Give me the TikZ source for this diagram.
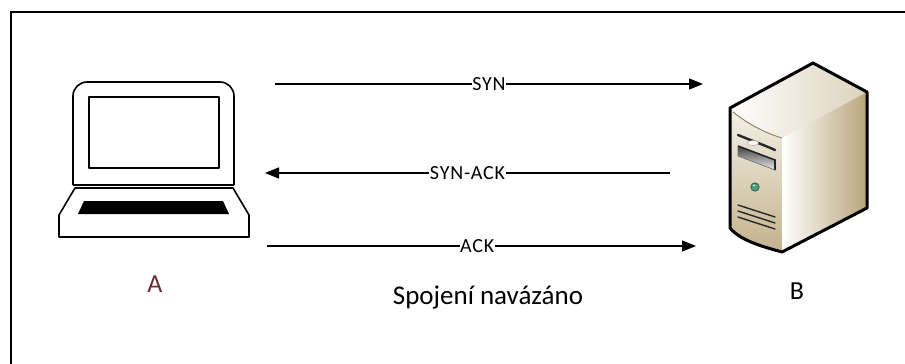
\documentclass[tikz,border=0pt]{standalone}
\usepackage{fontspec}
\setmainfont{Carlito}
\usetikzlibrary{arrows.meta}
\definecolor{labelA}{HTML}{6B2C2C}
\definecolor{caseLight}{HTML}{F4F1E8}
\definecolor{caseMid}{HTML}{DCD2BC}
\definecolor{caseDark}{HTML}{B8A478}
\definecolor{ledGreen}{HTML}{4C9E7C}
\newfontfamily\labelfont[LetterSpace=4]{Carlito}
\tikzset{
  frameline/.style={line width=2.3pt, black},
  laptopline/.style={line width=1.6pt, black, line join=round},
  msg/.style={line width=1.3pt, -{Triangle[length=14pt, width=11pt]}},
  msglabel/.style={fill=white, inner xsep=0.5pt, inner ysep=1pt, font=\labelfont\fontsize{20}{22}\selectfont},
  hostlabel/.style={font=\fontsize{26}{28}\selectfont},
  caption/.style={font=\fontsize{27}{29}\selectfont},
}
\begin{document}
\begin{tikzpicture}[x=1pt, y=-1pt]
  \useasboundingbox (0,0) rectangle (905,364);

  % open frame: top and left edges
  \draw[frameline] (11,364) -- (11,12) -- (905,12);

  % ---------- laptop (host A) ----------
  \draw[laptopline, rounded corners=14pt] (73,185) -- (73,82) -- (234,82) -- (234,185);
  \draw[laptopline] (73,185) -- (234,185);
  \draw[laptopline] (89,97) rectangle (219,168);
  \draw[laptopline] (75,188) -- (233,188) -- (249,215) -- (249,237) -- (59,237) -- (59,215) -- cycle;
  \fill[black] (84,201) -- (223,201) -- (229,214) -- (78,214) -- cycle;

  % ---------- tower server (host B) ----------
  % top face
  \shade[left color=white, right color=caseMid]
    (730,108) -- (813,63) -- (867,92) -- (782,138) .. controls (765,132) and (745,122) .. (730,108) -- cycle;
  % right face
  \shade[left color=white, right color=caseDark]
    (782,138) -- (867,92) -- (867,208) -- (782,252) -- cycle;
  % front face
  \shade[top color=caseLight, bottom color=caseDark!85!white]
    (730,108) .. controls (745,122) and (765,132) .. (782,138) -- (782,252)
    .. controls (760,246) and (740,240) .. (730,228) -- cycle;
  % brown crease between top and front
  \draw[caseDark!70!black, line width=0.8pt]
    (733,112) .. controls (748,124) and (765,133) .. (782,138);
  % light edge between front and right face
  \draw[white, line width=0.8pt] (782,139) -- (782,251);
  % silhouette outline
  \draw[line width=3pt, line join=round]
    (730,108) -- (813,63) -- (867,92) -- (867,208) -- (782,252)
    .. controls (760,246) and (740,240) .. (730,228) -- cycle;
  % slot with release tab
  \draw[black!85, line width=2.4pt, line cap=round]
    (738,135) .. controls (750,140) and (764,145) .. (775,150);
  \fill[white!90!caseMid, draw=black!40, line width=0.4pt] (753,143) ellipse [x radius=5.5pt, y radius=2.6pt];
  % drive bay
  \shade[top color=black!75, bottom color=white!85!gray]
    (738,146) -- (775,160) -- (775,170) -- (738,156) -- cycle;
  \draw[black!85, line width=1.6pt] (738,146) -- (775,160) -- (775,170);
  \draw[black!60, line width=0.6pt] (738,146) -- (738,156) -- (775,170);
  % power LED
  \fill[ledGreen!60!black] (755,187) circle [radius=4.6pt];
  \fill[ledGreen] (755,187) circle [radius=3.6pt];
  \fill[white!70!ledGreen] (754,185.5) circle [radius=1.2pt];
  % ventilation grille
  \foreach \dy in {0,6,12}{
    \draw[black!85, line width=1.4pt, line cap=round]
      (738,205+\dy) .. controls (750,209+\dy) and (763,213+\dy) .. (775,217+\dy);
  }

  % ---------- handshake messages ----------
  \coordinate (synS) at (275,84);
  \coordinate (synE) at (703,84);
  \coordinate (sackS) at (670,173);
  \coordinate (sackE) at (265,173);
  \coordinate (ackS) at (267,246);
  \coordinate (ackE) at (696,246);

  \draw[msg] (synS) -- node[msglabel, pos=0.5] (synL) {SYN} (synE);
  \draw[msg] (sackS) -- node[msglabel, pos=0.5] (sackL) {SYN-ACK} (sackE);
  \draw[msg] (ackS) -- node[msglabel, pos=0.49] (ackL) {ACK} (ackE);

  % ---------- labels ----------
  \node[hostlabel, text=labelA] (labA) at (155,284) {A};
  \node[hostlabel] (labB) at (797,291) {B};
  \node[caption] (done) at (488,298) {Spojení navázáno};
\end{tikzpicture}
\end{document}
